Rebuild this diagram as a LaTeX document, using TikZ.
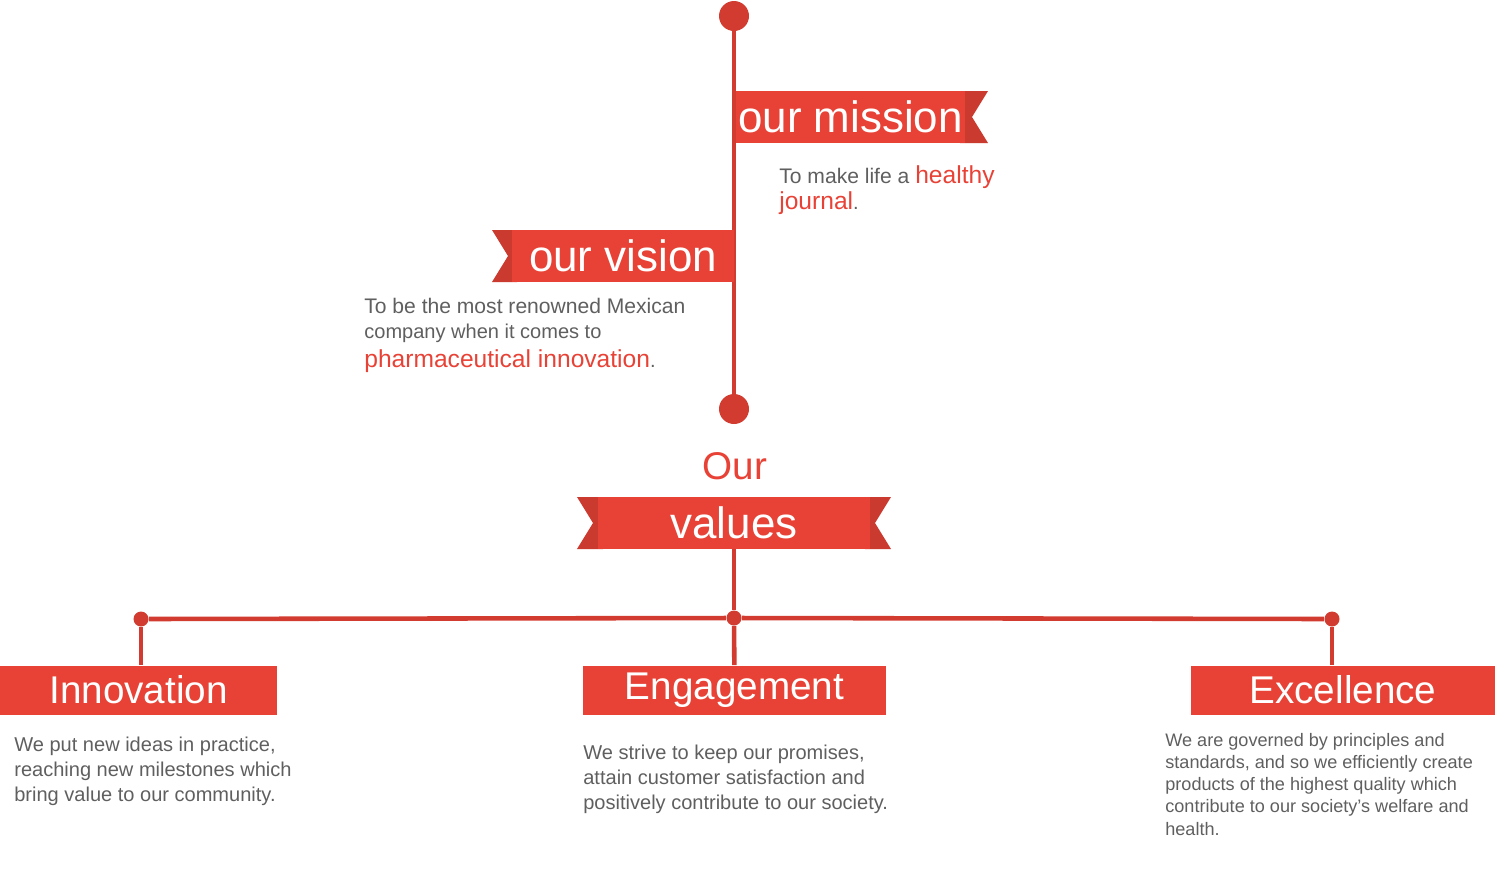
\documentclass[tikz,border=0pt]{standalone}
\usepackage{fontspec}
\setmainfont{Liberation Sans}
\usetikzlibrary{positioning,calc}
\definecolor{ribred}{HTML}{E84236}
\definecolor{taildark}{HTML}{CB3A2E}
\definecolor{stemred}{HTML}{D23C30}
\definecolor{txtgray}{HTML}{5F5F5F}

\tikzset{
    ribbon/.style={fill=ribred, draw=none, text=white, inner sep=0pt, font=\fontsize{25}{30}\selectfont},
    valuebox/.style={fill=ribred, draw=none, text=white, inner sep=0pt, font=\fontsize{22}{26}\selectfont},
    stem/.style={stemred, line width=2.6pt},
    bigdot/.style={circle, fill=stemred, inner sep=0pt, minimum size=0.6cm},
    smalldot/.style={circle, fill=stemred, inner sep=0pt, minimum size=0.3cm},
    body/.style={text=txtgray, inner sep=0pt, align=left, font=\fontsize{11.4}{14.2}\selectfont},
    hl/.style={text=ribred}
}

\begin{document}
\begin{tikzpicture}[x=0.02cm, y=-0.02cm]
    \useasboundingbox (0,0) rectangle (1500,887);

    % top stem
    \node[bigdot] (top) at (734,16) {};
    \node[bigdot] (bottom) at (734,409) {};
    \draw[stem] (top) -- (bottom);

    % mission flag
    \fill[taildark] (960,91) -- (988,91) -- (972,117) -- (988,143) -- (960,143) -- cycle;
    \node[ribbon, minimum width=4.6cm, minimum height=1.04cm] (mission) at (850.5,117) {our mission};
    \node[body, anchor=west] (missiontxt) at (779,190)
        {\fontsize{12}{15}\selectfont To make life a \textcolor{ribred}{\fontsize{14}{15}\selectfont healthy}\\[1pt]
         \textcolor{ribred}{\fontsize{14}{15}\selectfont journal}.};

    % vision flag
    \fill[taildark] (517,230) -- (492,230) -- (508,256) -- (492,282) -- (517,282) -- cycle;
    \node[ribbon, minimum width=4.44cm, minimum height=1.04cm] (vision) at (623,256) {our vision};
    \node[body, anchor=north west] (visiontxt) at (364,298)
        {\fontsize{12}{14.5}\selectfont To be the most renowned Mexican\\
         company when it comes to\\[2pt]
         \textcolor{ribred}{\fontsize{14}{15}\selectfont pharmaceutical innovation}.};

    % values flag
    \node[text=ribred, font=\fontsize{22}{26}\selectfont] (our) at (735,466) {Our};
    \fill[taildark] (603,497) -- (577,497) -- (593,523) -- (577,549) -- (603,549) -- cycle;
    \fill[taildark] (865,497) -- (891,497) -- (875,523) -- (891,549) -- (865,549) -- cycle;
    \node[ribbon, minimum width=5.44cm, minimum height=1.04cm] (values) at (734,523) {values};

    % branches
    \node[smalldot] (jl) at (141,619) {};
    \node[smalldot] (jm) at (734,618) {};
    \node[smalldot] (jr) at (1332,619) {};
    \node[valuebox, minimum width=5.54cm, minimum height=0.98cm] (innov) at (138.5,690) {Innovation};
    \node[valuebox, minimum width=6.06cm, minimum height=0.98cm] (engage) at (734.5,690) {Engagement};
    \node[valuebox, minimum width=6.08cm, minimum height=0.98cm] (excel) at (1343,690) {Excellence};
    \draw[stem] (values) -- (jm);
    \draw[stem] (jl) -- (jm) -- (jr);
    \draw[stem] (jl) -- (jl |- innov.north);
    \draw[stem] (jm) -- (engage);
    \draw[stem] (jr) -- (jr |- excel.north);

    % descriptions
    \node[body, anchor=north west] (innovtxt) at (14,737)
        {We put new ideas in practice,\\reaching new milestones which\\bring value to our community.};
    \node[body, anchor=north west] (engagetxt) at (583,745)
        {We strive to keep our promises,\\attain customer satisfaction and\\positively contribute to our society.};
    \node[body, anchor=north west, font=\fontsize{10.3}{12.6}\selectfont] (exceltxt) at (1165,733)
        {We are governed by principles and\\standards, and so we efficiently create\\products of the highest quality which\\contribute to our society’s welfare and\\health.};
\end{tikzpicture}
\end{document}
